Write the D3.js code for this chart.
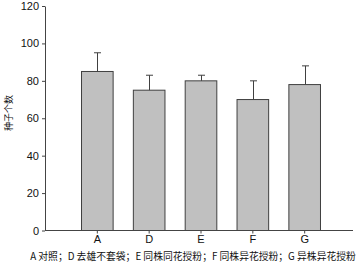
<!DOCTYPE html>
<html><head><meta charset="utf-8">
<script src="https://cdn.jsdelivr.net/npm/d3@7"></script>
<style>body{margin:0;background:#fff}svg{display:block}</style>
</head><body>
<script>
const categories = ["A","D","E","F","G"];
const values = [85, 75, 80, 70, 78];
const errors = [10, 8, 3, 10, 10];
const yTicks = [0,20,40,60,80,100,120];
const yLabel = "种子个数";
const footnote = "A 对照；D 去雄不套袋；E 同株同花授粉；F 同株异花授粉；G 异株异花授粉";

const W=360,H=263;
const svg=d3.select("body").append("svg").attr("width",W).attr("height",H);
const y=d3.scaleLinear().domain([0,120]).range([230.5,6]);
const x=d3.scaleBand().domain(categories).range([71.4,330.6]).paddingInner(0.39).paddingOuter(0.195);
const axisColor="#444";
const tf="'Liberation Sans', Arial, sans-serif";
const cf="'Noto Sans CJK SC', sans-serif";

svg.selectAll("rect.bar").data(categories).join("rect")
  .attr("x",d=>x(d)).attr("width",x.bandwidth())
  .attr("y",(d,i)=>y(values[i])).attr("height",(d,i)=>y(0)-y(values[i]))
  .attr("fill","#c0c0c0").attr("stroke","#404040").attr("stroke-width",1);

const eg=svg.append("g").attr("stroke","#404040").attr("stroke-width",1);
categories.forEach((c,i)=>{
  const cx=Math.round(x(c)+x.bandwidth()/2)+0.5;
  eg.append("line").attr("x1",cx).attr("x2",cx).attr("y1",y(values[i])).attr("y2",y(values[i]+errors[i]));
  eg.append("line").attr("x1",cx-3.5).attr("x2",cx+3.5).attr("y1",y(values[i]+errors[i])).attr("y2",y(values[i]+errors[i]));
});

const ya=svg.append("g").attr("transform","translate(45,0)")
  .call(d3.axisLeft(y).tickValues(yTicks).tickSize(3).tickSizeOuter(0).tickPadding(3));
ya.select(".domain").attr("stroke",axisColor);
ya.selectAll(".tick line").attr("stroke",axisColor);
ya.selectAll("text").attr("font-family",tf).attr("font-size",11).attr("fill","#111");

const xa=svg.append("g").attr("transform","translate(0,230.5)")
  .call(d3.axisBottom(x).tickSize(3).tickSizeOuter(0).tickPadding(2));
xa.select(".domain").attr("d","M45,0H353").attr("stroke",axisColor);
xa.selectAll(".tick line").attr("stroke",axisColor);
xa.selectAll("text").attr("font-family",tf).attr("font-size",11).attr("fill","#111");

svg.append("text").attr("transform","translate(12,113) rotate(-90)")
  .attr("text-anchor","middle").attr("font-family",cf).attr("font-size",9).attr("fill","#111").text(yLabel);

svg.append("text").attr("x",193).attr("y",260).attr("text-anchor","middle")
  .attr("font-family",cf).attr("font-size",9.8).attr("fill","#111").text(footnote);
</script>
</body></html>
